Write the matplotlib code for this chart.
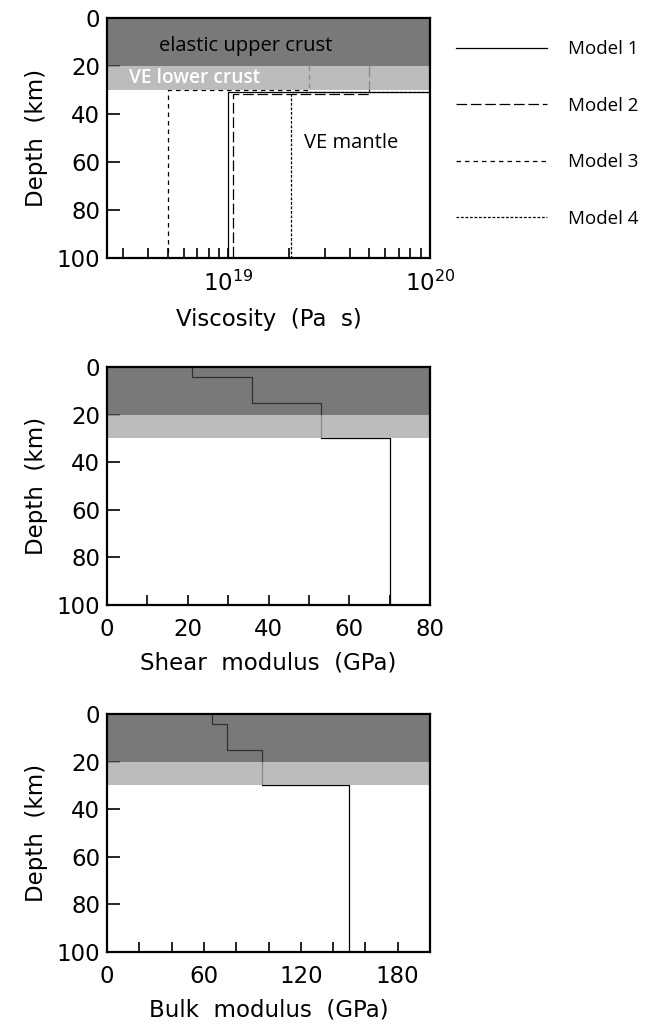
import numpy as np
import matplotlib
matplotlib.use("Agg")
import matplotlib.pyplot as plt
from matplotlib.ticker import FixedLocator, NullFormatter

# ─── Data ───────────────────────────────────────────────────────────────────
# viscosity models: lower crust (20-30 km) and mantle (below ~30 km)
model_names   = ["Model 1", "Model 2", "Model 3", "Model 4"]
visc_lower    = [1.0e20, 5.0e19, 2.5e19, 1.0e20]
visc_mantle   = [1.0e19, 1.05e19, 5.0e18, 2.05e19]
moho_depth    = [31.0, 31.5, 30.0, 31.0]
model_dashes  = ["-", (0, (8.5, 3)), (0, (3.6, 3.2)), (0, (2.2, 1.4))]

# elastic layer profiles
layer_tops    = [0, 4, 15, 30]
shear_mod     = [21, 36, 53, 70]      # GPa
bulk_mod      = [65, 74, 96, 150]     # GPa
max_depth     = 100

upper_crust   = (0, 20)
lower_crust   = (20, 30)

TICK_FS  = 16.5
LABEL_FS = 16.5
ANNOT    = ["Open Sans", "DejaVu Sans"]

fig = plt.figure(figsize=(6.47, 10.27), dpi=100)


def style_depth_axis(ax):
    ax.set_ylim(max_depth, 0)
    ax.set_yticks(np.arange(0, 101, 20))
    ax.set_ylabel("Depth  (km)", fontsize=LABEL_FS, labelpad=6)
    ax.tick_params(axis="y", direction="in", length=9, width=1.2,
                   labelsize=TICK_FS, pad=5)
    ax.tick_params(axis="x", which="both", direction="in", length=7,
                   width=1.2, labelsize=TICK_FS, pad=9)
    for s in ax.spines.values():
        s.set_linewidth(1.6)
        s.set_zorder(6)


def add_bands(ax):
    ax.axhspan(*upper_crust, color=(0.27, 0.27, 0.27), alpha=0.72,
               lw=0, zorder=4)
    ax.axhspan(*lower_crust, color=(0.67, 0.67, 0.67), alpha=0.8,
               lw=0, zorder=4)


def step_profile(ax, values):
    # x value of each layer, drawn as a staircase down to max depth
    depths = layer_tops + [max_depth]
    xs = np.repeat(values, 2)
    ys = np.repeat(depths, 2)[1:-1]
    ax.plot(xs, ys, color="black", lw=0.9, zorder=3)


# ─── Panel 1: viscosity ─────────────────────────────────────────────────────
ax1 = fig.add_axes([0.1654, 0.7488, 0.4992, 0.2337])
handles = []
for name, lc, mn, md, ls in zip(model_names, visc_lower, visc_mantle,
                                 moho_depth, model_dashes):
    xs = [lc, lc, mn, mn]
    ys = [lower_crust[0], md, md, max_depth]
    h, = ax1.plot(xs, ys, color="black", lw=0.9, linestyle=ls, zorder=3,
                  label=name)
    handles.append(h)
add_bands(ax1)
ax1.set_xscale("log")
ax1.set_xlim(2.5e18, 1.0e20)
ax1.xaxis.set_major_locator(FixedLocator([1e19, 1e20]))
minor = [m * 10.0 ** e for e in (18, 19) for m in range(2, 10)]
ax1.xaxis.set_minor_locator(FixedLocator(minor))
ax1.xaxis.set_minor_formatter(NullFormatter())
style_depth_axis(ax1)
ax1.set_xlabel("Viscosity  (Pa  s)", fontsize=LABEL_FS, labelpad=9)

ax1.text(0.43, 11.5, "elastic upper crust", transform=ax1.get_yaxis_transform(),
         ha="center", va="center", fontsize=14.5, family=ANNOT, zorder=7)
ax1.text(0.068, 25, "VE lower crust", transform=ax1.get_yaxis_transform(),
         ha="left", va="center", fontsize=13.8, family=ANNOT, color="white",
         fontweight="semibold", zorder=7)
ax1.text(0.61, 52, "VE mantle", transform=ax1.get_yaxis_transform(),
         ha="left", va="center", fontsize=14.5, family=ANNOT, zorder=7)

fig.legend(handles=handles, loc="upper left", bbox_to_anchor=(0.678, 0.977),
           frameon=False, prop={"family": ANNOT, "size": 13.5},
           handlelength=4.9, handletextpad=1.1, labelspacing=2.05)

# ─── Panel 2: shear modulus ─────────────────────────────────────────────────
ax2 = fig.add_axes([0.1654, 0.4109, 0.4992, 0.2317])
step_profile(ax2, shear_mod)
add_bands(ax2)
ax2.set_xlim(0, 80)
ax2.set_xticks(np.arange(0, 81, 20))
ax2.set_xticks(np.arange(0, 81, 10), minor=True)
style_depth_axis(ax2)
ax2.set_xlabel("Shear  modulus  (GPa)", fontsize=LABEL_FS, labelpad=8)

# ─── Panel 3: bulk modulus ──────────────────────────────────────────────────
ax3 = fig.add_axes([0.1654, 0.0730, 0.4992, 0.2317])
step_profile(ax3, bulk_mod)
add_bands(ax3)
ax3.set_xlim(0, 200)
ax3.set_xticks(np.arange(0, 181, 60))
ax3.set_xticks(np.arange(0, 201, 20), minor=True)
style_depth_axis(ax3)
ax3.set_xlabel("Bulk  modulus  (GPa)", fontsize=LABEL_FS, labelpad=8)

plt.savefig("out.png", dpi=100)
plt.close()
